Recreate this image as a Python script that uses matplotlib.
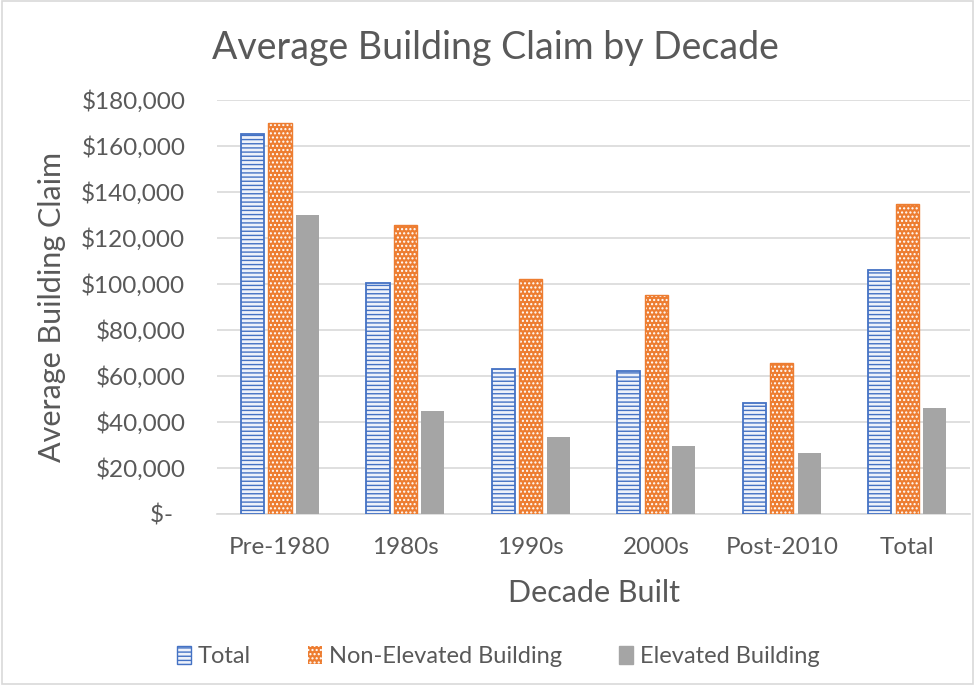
import matplotlib
matplotlib.use("Agg")
import matplotlib.pyplot as plt
import numpy as np
from matplotlib.patches import Patch, Rectangle

# data
decades = ["Pre-1980", "1980s", "1990s", "2000s", "Post-2010", "Total"]
total_claim = [165000, 100500, 62800, 61900, 48000, 105900]
non_elevated = [170000, 125500, 102000, 95000, 65800, 134700]
elevated = [130000, 44500, 33600, 29600, 26600, 46200]
y_ticks = [0, 20000, 40000, 60000, 80000, 100000, 120000, 140000, 160000, 180000]
series_names = ["Total", "Non-Elevated Building", "Elevated Building"]

BLUE = "#4472C4"
ORANGE = "#ED7D31"
GRAY = "#A5A5A5"
TEXT = "#595959"

plt.rcParams['font.family'] = ['Lato', 'DejaVu Sans']
plt.rcParams['hatch.linewidth'] = 1.0

fig = plt.figure(figsize=(9.75, 6.85), dpi=100)
ax = fig.add_axes([0.2228, 0.25, 0.772, 0.604])

x = np.arange(len(decades))
w = 0.185
off = 0.219

# Total: pale face with horizontal blue lines
ax.bar(x - off, total_claim, w, facecolor="#EEF2FA", edgecolor=BLUE,
       hatch="----", linewidth=1.3, zorder=3)
# Non-elevated: orange with small white dots
ax.bar(x, non_elevated, w, facecolor=ORANGE, edgecolor="white",
       hatch="....", linewidth=0, zorder=3)
ax.bar(x, non_elevated, w, fill=False, edgecolor=ORANGE, linewidth=1.0, zorder=4)
# Elevated: plain gray
ax.bar(x + off, elevated, w, color=GRAY, zorder=3)

ax.set_xlim(-0.5, len(decades) - 0.5)
ax.set_ylim(0, 180000)
ax.set_yticks(y_ticks)
ax.set_yticklabels([f"${v:,.0f}" if v else "$-  " for v in y_ticks])
ax.set_xticks(x)
ax.set_xticklabels(decades)
ax.tick_params(axis="both", length=0, labelsize=17.5, colors=TEXT)
ax.tick_params(axis="y", pad=23)
ax.tick_params(axis="x", pad=17)

ax.grid(axis="y", color="#D9D9D9", linewidth=1.2, zorder=0)
for s in ["top", "right", "left"]:
    ax.spines[s].set_visible(False)
ax.spines["bottom"].set_color("#D9D9D9")
ax.spines["bottom"].set_linewidth(1.2)

ax.set_ylabel("Average Building Claim", fontsize=22, color=TEXT)
ax.yaxis.set_label_coords(-0.201, 0.5)
ax.set_xlabel("Decade Built", fontsize=22, color=TEXT, labelpad=15)
fig.text(0.508, 0.93, "Average Building Claim by Decade", ha="center", va="center",
         fontsize=27, color=TEXT)

handles = [
    Patch(facecolor="#EEF2FA", edgecolor=BLUE, hatch="----", linewidth=1.0),
    Patch(facecolor=ORANGE, edgecolor="white", hatch="....", linewidth=0),
    Patch(facecolor=GRAY, edgecolor=GRAY),
]
fig.legend(handles, series_names, loc="center", bbox_to_anchor=(0.511, 0.042),
           ncol=3, frameon=False, fontsize=17, labelcolor=TEXT,
           handlelength=0.6, handleheight=0.8, handletextpad=0.3, columnspacing=2.4)

# light frame round the chart area
fig.patches.append(Rectangle((0.002, 0.002), 0.996, 0.996, transform=fig.transFigure,
                             fill=False, edgecolor="#D9D9D9", linewidth=1.2))

fig.savefig("out.png", dpi=100)
